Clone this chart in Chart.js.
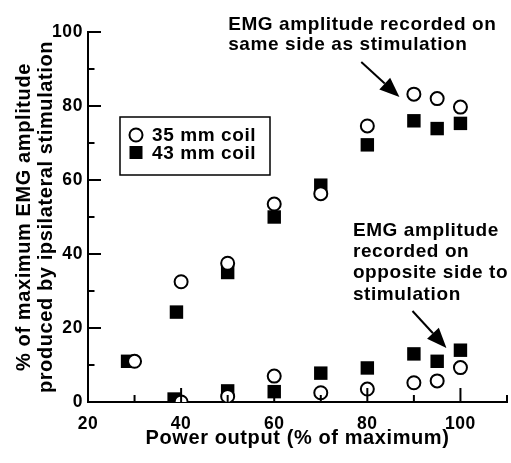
<!DOCTYPE html>
<html>
<head>
<meta charset="utf-8">
<title>EMG amplitude vs power output</title>
<script src="https://cdn.jsdelivr.net/npm/chart.js@4.4.1/dist/chart.umd.min.js"></script>
<style>
  html, body { margin: 0; padding: 0; background: #fff; }
  #wrap { width: 511px; height: 463px; }
</style>
</head>
<body>
<div id="wrap"><canvas id="emgChart"></canvas></div>
<script>
// ---- Data ----
const power35Same = [30, 40, 50, 60, 70, 80, 90, 95, 100];
const amp35Same   = [11, 32.5, 37.5, 53.5, 56.3, 74.6, 83.2, 82, 79.7];
const power35Opp  = [40, 50, 60, 70, 80, 90, 95, 100];
const amp35Opp    = [0, 1.5, 7, 2.5, 3.5, 5.2, 5.7, 9.3];
const power43Same = [28.5, 39, 50, 60, 70, 80, 90, 95, 100];
const amp43Same   = [11, 24.3, 35, 50, 58.6, 69.5, 76, 73.9, 75.3];
const power43Opp  = [38.5, 50, 60, 70, 80, 90, 95, 100];
const amp43Opp    = [0.8, 3, 2.8, 7.8, 9.2, 13, 11, 14];

const xLabels = [20, 40, 60, 80, 100];
const yLabels = [0, 20, 40, 60, 80, 100];
const legendLabels = ['35 mm coil', '43 mm coil'];
const noteSame = ['EMG amplitude recorded on', 'same side as stimulation'];
const noteOpp  = ['EMG amplitude', 'recorded on', 'opposite side to', 'stimulation'];

const FONT = "'Liberation Sans', Arial, Helvetica, sans-serif";
const pts = (xs, ys) => xs.map((x, i) => ({ x: x, y: ys[i] }));

// ---- Point styles ----
const circleStyle = { pointStyle: 'circle', pointRadius: 6.5, pointBorderWidth: 2, pointBorderColor: '#000', pointBackgroundColor: '#fff' };
const squareStyle = { pointStyle: 'rect', pointRadius: 9.5, pointBorderWidth: 0, pointBackgroundColor: '#000' };

// ---- Inward tick marks, legend box and the two notes ----
const decorations = {
  id: 'decorations',
  beforeUpdate(chart) { chart.ctx.letterSpacing = '0.6px'; },
  beforeDraw(chart)   { chart.ctx.letterSpacing = '0.6px'; },
  afterDraw(chart) {
    const { ctx, chartArea: area, scales: { x, y } } = chart;
    ctx.save();
    ctx.strokeStyle = '#000';
    ctx.fillStyle = '#000';
    ctx.lineWidth = 2;

    // ticks pointing into the plot
    y.ticks.forEach(t => {
      const py = y.getPixelForValue(t.value);
      const len = yLabels.includes(t.value) ? 13 : 6.5;
      ctx.beginPath(); ctx.moveTo(area.left, py); ctx.lineTo(area.left + len, py); ctx.stroke();
    });
    x.ticks.forEach(t => {
      const px = x.getPixelForValue(t.value);
      const len = xLabels.includes(t.value) ? 14 : 7;
      ctx.beginPath(); ctx.moveTo(px, area.bottom); ctx.lineTo(px, area.bottom - len); ctx.stroke();
    });

    // legend box
    const lx = area.left + 32, ly = area.top + 85;
    ctx.lineWidth = 1.5;
    ctx.strokeRect(lx, ly, 150, 58);
    ctx.lineWidth = 2;
    ctx.beginPath(); ctx.arc(lx + 16, ly + 18, 6.5, 0, Math.PI * 2);
    ctx.fillStyle = '#fff'; ctx.fill(); ctx.stroke();
    ctx.fillStyle = '#000';
    ctx.fillRect(lx + 16 - 6.5, ly + 35.5 - 6.5, 13, 13);
    ctx.font = 'bold 19px ' + FONT;
    ctx.textAlign = 'left';
    ctx.textBaseline = 'alphabetic';
    ctx.fillText(legendLabels[0], lx + 32, ly + 24);
    ctx.fillText(legendLabels[1], lx + 32, ly + 42);

    // notes, anchored in data units
    const note = (lines, ax, ay, step) => {
      const px = x.getPixelForValue(ax), py = y.getPixelForValue(ay);
      lines.forEach((s, i) => ctx.fillText(s, px, py + i * step));
    };
    note(noteSame, 50.1, 100.5, 19.5);
    note(noteOpp, 76.9, 44.9, 21.3);

    // arrows
    const arrow = (x0, y0, x1, y1) => {
      const ax = x.getPixelForValue(x0), ay = y.getPixelForValue(y0);
      const bx = x.getPixelForValue(x1), by = y.getPixelForValue(y1);
      const ang = Math.atan2(by - ay, bx - ax), hl = 20, hw = 8;
      const cx = bx - hl * Math.cos(ang), cy = by - hl * Math.sin(ang);
      ctx.lineWidth = 2;
      ctx.beginPath(); ctx.moveTo(ax, ay); ctx.lineTo(cx, cy); ctx.stroke();
      ctx.beginPath();
      ctx.moveTo(bx, by);
      ctx.lineTo(cx + hw * Math.sin(ang), cy - hw * Math.cos(ang));
      ctx.lineTo(cx - hw * Math.sin(ang), cy + hw * Math.cos(ang));
      ctx.closePath(); ctx.fill();
    };
    arrow(78.7, 91.9, 86.9, 82.4);
    arrow(89.7, 24.6, 97, 14.6);
    ctx.restore();
  }
};

new Chart(document.getElementById('emgChart'), {
  type: 'scatter',
  data: {
    datasets: [
      { label: legendLabels[0], data: pts(power35Same, amp35Same), ...circleStyle },
      { label: legendLabels[0], data: pts(power35Opp, amp35Opp), ...circleStyle },
      { label: legendLabels[1], data: pts(power43Same, amp43Same), ...squareStyle },
      { label: legendLabels[1], data: pts(power43Opp, amp43Opp), ...squareStyle }
    ]
  },
  options: {
    responsive: true,
    maintainAspectRatio: false,
    animation: false,
    events: [],
    layout: { autoPadding: false, padding: { top: 32, right: 4, left: 0, bottom: 0 } },
    plugins: { legend: { display: false }, tooltip: { enabled: false } },
    scales: {
      x: {
        type: 'linear', min: 20, max: 110,
        grid: { display: false, drawTicks: false },
        border: { display: true, color: '#000', width: 2 },
        ticks: {
          stepSize: 10, autoSkip: false, maxRotation: 0, padding: 12, color: '#000',
          font: { family: FONT, size: 17.5, weight: 'bold' },
          callback: v => xLabels.includes(v) ? v : ''
        },
        title: {
          display: true, text: 'Power output (% of maximum)', color: '#000',
          font: { family: FONT, size: 20, weight: 'bold', lineHeight: 1.1 },
          padding: { top: 0, bottom: 14 }
        },
        afterFit: s => { s.height = 61; s.paddingLeft = 0; s.paddingRight = 0; }
      },
      y: {
        type: 'linear', min: 0, max: 100,
        grid: { display: false, drawTicks: false },
        border: { display: true, color: '#000', width: 2 },
        ticks: {
          stepSize: 10, autoSkip: false, padding: 5, color: '#000',
          font: { family: FONT, size: 17.5, weight: 'bold' },
          callback: v => yLabels.includes(v) ? v : ''
        },
        title: {
          display: true, color: '#000',
          text: ['% of maximum EMG amplitude', 'produced by ipsilateral stimulation'],
          font: { family: FONT, size: 20, weight: 'bold', lineHeight: 1.1 },
          padding: { top: 13, bottom: 0 }
        },
        afterFit: s => { s.width = 88; s.paddingTop = 0; s.paddingBottom = 0; }
      }
    }
  },
  plugins: [decorations]
});
</script>
</body>
</html>
